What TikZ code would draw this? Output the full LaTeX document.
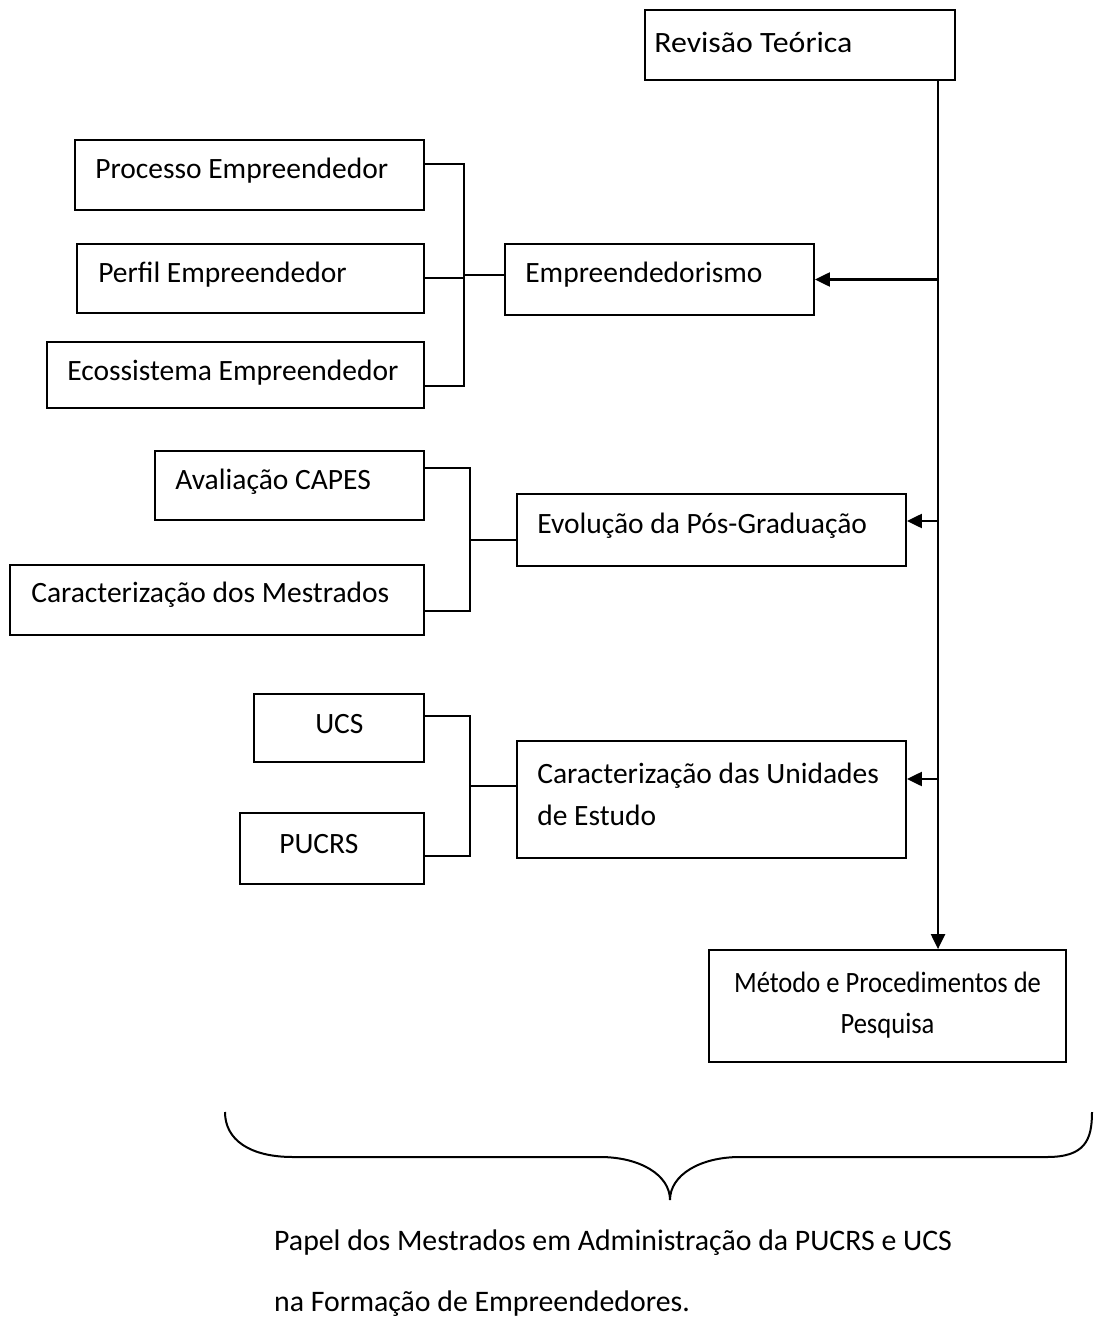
\documentclass[tikz,border=0pt]{standalone}
\usepackage{fontspec}
\setmainfont{Carlito}
\usetikzlibrary{arrows.meta,calc}
\tikzset{
  box/.style={draw, line width=1.8pt, inner sep=0pt},
  txt/.style={inner sep=0pt, align=left, anchor=west, font=\fontsize{29.5}{42}\selectfont},
  lbl/.style={inner sep=0pt, font=\fontsize{29.8}{42}\selectfont, anchor=base west},
  link/.style={line width=2pt},
  arr/.style={line width=2.2pt, -{Triangle[length=15pt,width=14pt]}},
}
\begin{document}
\begin{tikzpicture}[x=1pt,y=-1pt]
\useasboundingbox[fill=white] (0,0) rectangle (1094,1321);
% boxes
\node[box, minimum width=310, minimum height=70] (rev) at (800,45) {};
\node[box, minimum width=349, minimum height=70] (proc) at (249.5,175) {};
\node[box, minimum width=347, minimum height=69] (perf) at (250.5,278.5) {};
\node[box, minimum width=377, minimum height=66] (eco) at (235.5,375) {};
\node[box, minimum width=309, minimum height=71] (emp) at (659.5,279.5) {};
\node[box, minimum width=269, minimum height=69] (aval) at (289.5,485.5) {};
\node[box, minimum width=414, minimum height=70] (carm) at (217,600) {};
\node[box, minimum width=389, minimum height=72] (evo) at (711.5,530) {};
\node[box, minimum width=170, minimum height=68] (ucs) at (339,728) {};
\node[box, minimum width=184, minimum height=71] (pucrs) at (332,848.5) {};
\node[box, minimum width=389, minimum height=117] (unid) at (711.5,799.5) {};
\node[box, minimum width=357, minimum height=112] (met) at (887.5,1006) {};
% texts
\node[txt] (revt) at ($(rev.west)+(10,-3)$) {\scalebox{1.08}[1]{Revisão Teórica}};
\node[txt] (proct) at ($(proc.west)+(21,-4)$) {Processo Empreendedor};
\node[txt] (perft) at ($(perf.west)+(22,-4)$) {Perfil Empreendedor};
\node[txt] (ecot) at ($(eco.west)+(21,-2)$) {Ecossistema Empreendedor};
\node[txt] (empt) at ($(emp.west)+(21,-5)$) {Empreendedorismo};
\node[txt] (avalt) at ($(aval.west)+(21,-4)$) {Avaliação CAPES};
\node[txt] (carmt) at ($(carm.west)+(22,-5)$) {Caracterização dos Mestrados};
\node[txt] (evot) at ($(evo.west)+(21,-4)$) {Evolução da Pós-Graduação};
\node[txt] (ucst) at ($(ucs.west)+(62,-4)$) {UCS};
\node[txt] (pucrst) at ($(pucrs.west)+(40,-4)$) {PUCRS};
\node[txt] (unidt) at ($(unid.west)+(21,-5)$) {Caracterização das Unidades\\de Estudo};
\node[txt, anchor=center] (mett) at ($(met.center)+(0,-1)$) {\scalebox{0.9}[1]{\begin{tabular}{@{}c@{}}Método e Procedimentos de\\[-1pt] Pesquisa\end{tabular}}};
% main vertical line
\coordinate (vx) at (938,0);
\draw[arr] (rev.south -| vx) -- (met.north -| vx);
\coordinate (a1) at (938,279.5);
\coordinate (a2) at (938,521);
\coordinate (a3) at (938,779);
\draw[arr] (a1) -- (a1 -| emp.east);
\draw[arr] (a2) -- (a2 -| evo.east);
\draw[arr] (a3) -- (a3 -| unid.east);
% bracket 1
\coordinate (j1) at (464,275);
\draw[link] (proc.east |- 0,164) -- (j1 |- 0,164) -- (j1 |- 0,386) -- (eco.east |- 0,386);
\draw[link] (perf.east |- 0,278) -- (j1 |- 0,278);
\draw[link] (j1) -- (j1 -| emp.west);
% bracket 2
\coordinate (j2) at (470,540);
\draw[link] (aval.east |- 0,468) -- (j2 |- 0,468) -- (j2 |- 0,611) -- (carm.east |- 0,611);
\draw[link] (j2) -- (j2 -| evo.west);
% bracket 3
\coordinate (j3) at (470,786);
\draw[link] (ucs.east |- 0,716) -- (j3 |- 0,716) -- (j3 |- 0,856) -- (pucrs.east |- 0,856);
\draw[link] (j3) -- (j3 -| unid.west);
% brace
\draw[line width=2pt] (225,1112) .. controls (225,1140) and (250,1157) .. (293,1157) -- (600,1157)
  .. controls (640,1157) and (670,1175) .. (670,1200)
  .. controls (670,1175) and (700,1157) .. (740,1157) -- (1047,1157)
  .. controls (1085,1157) and (1092,1140) .. (1092,1112);
% bottom text
\node[lbl] (t1) at (274,1250) {Papel dos Mestrados em Administração da PUCRS e UCS};
\node[lbl] (t2) at (274,1311) {na Formação de Empreendedores.};
\end{tikzpicture}
\end{document}
